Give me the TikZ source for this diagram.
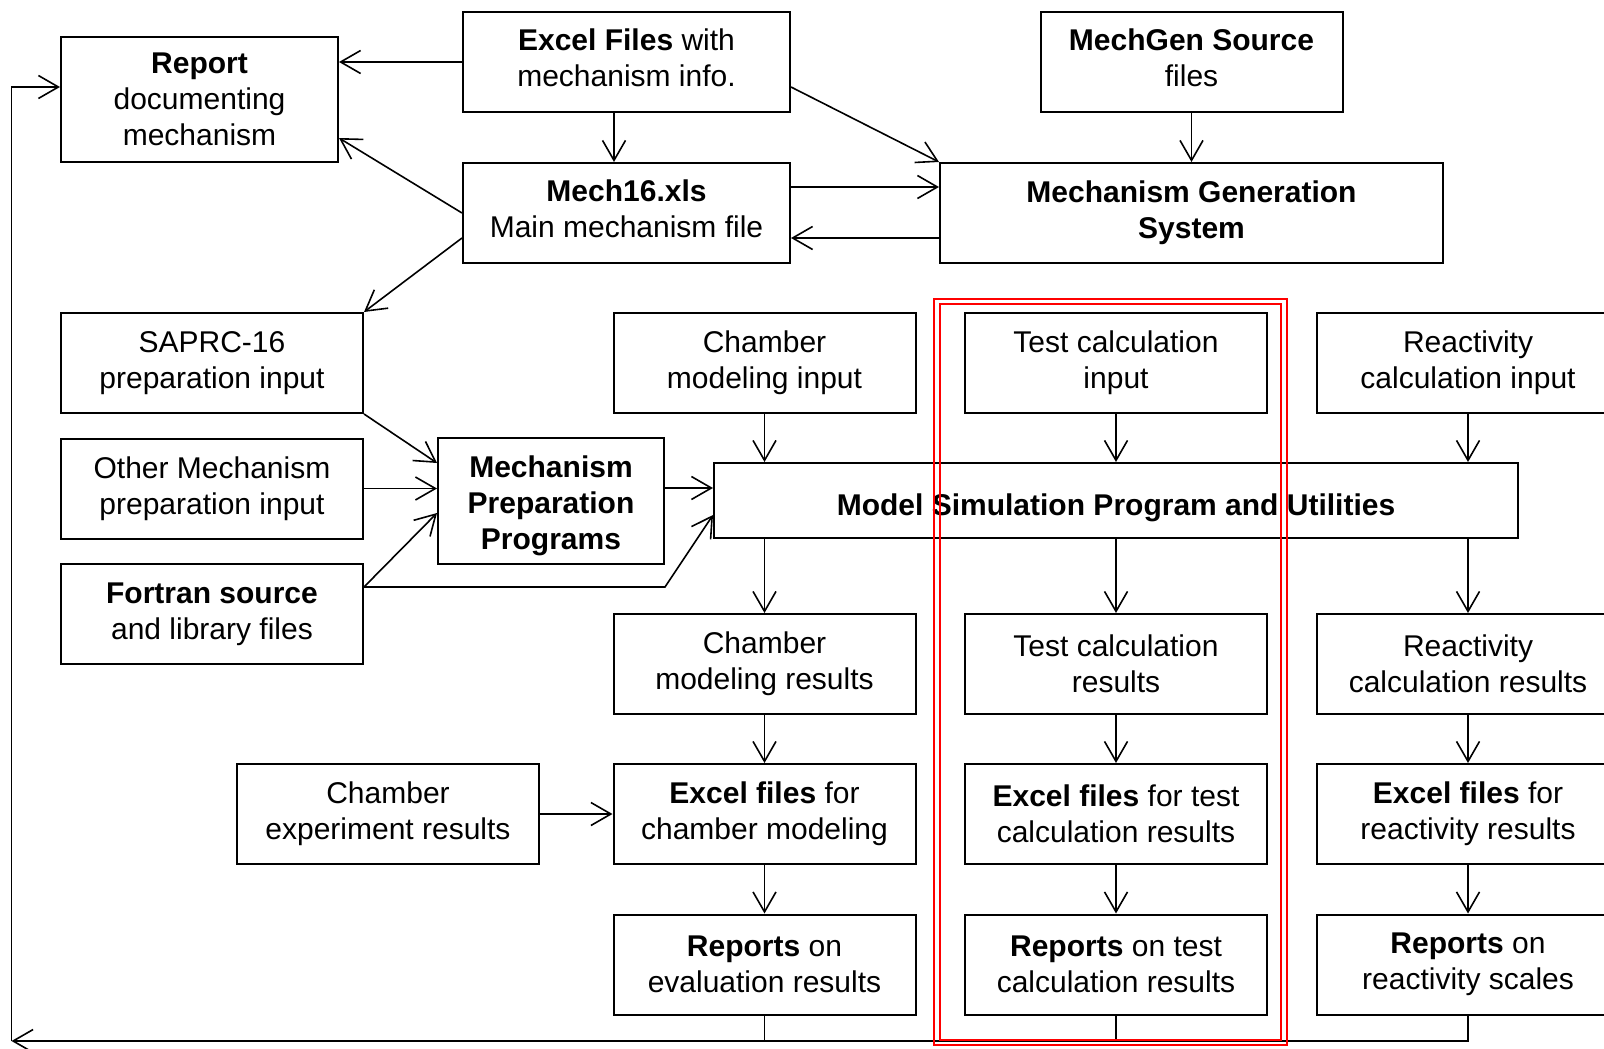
\documentclass[tikz,border=0pt]{standalone}
\usepackage{fontspec}
\setmainfont{Liberation Sans}
\usetikzlibrary{arrows.meta}
\begin{document}
\begin{tikzpicture}[x=0.5pt,y=-0.5pt,
  box/.style={draw, line width=1pt, align=center, inner sep=0pt,
    font=\fontsize{15pt}{18pt}\selectfont, minimum height=50pt, minimum width=151pt},
  bbox/.style={box, font=\fontsize{15pt}{18pt}\selectfont\bfseries},
  txt/.style={align=center, font=\fontsize{15pt}{18pt}\selectfont},
  btxt/.style={txt, font=\fontsize{15pt}{18pt}\selectfont\bfseries},
  arr/.style={line width=0.8pt, -{Straight Barb[length=10pt,width=11.5pt]}},
  link/.style={line width=0.8pt}]
\useasboundingbox (0,0) rectangle (1604,1048);
\clip (0,0) rectangle (1604,1048);

% upper part: mechanism sources
\node[box, minimum width=138.5pt, minimum height=62.5pt] (rep) at (199.5,99.5) {\textbf{Report}\\documenting\\mechanism};
\node[box, minimum width=163.5pt,
  label={[txt, yshift=2pt]center:{\textbf{Excel Files} with\\mechanism info.}}] (xls) at (626.5,62) {};
\node[box, label={[txt, yshift=2pt]center:{\textbf{MechGen Source}\\files}}] (src) at (1191.5,62) {};
\node[box, minimum width=163.5pt,
  label={[txt, yshift=2pt]center:{\textbf{Mech16.xls}\\Main mechanism file}}] (mech) at (626.5,213) {};
\node[bbox, minimum width=251.5pt] (mgs) at (1191.5,213) {Mechanism Generation\\System};

% preparation inputs
\node[box] (saprc) at (212,363) {SAPRC-16\\preparation input};
\node[box] (other) at (212,488.5) {Other Mechanism\\preparation input};
\node[box] (fort) at (212,614) {\textbf{Fortran source}\\and library files};
\node[box, minimum width=113pt, minimum height=63pt,
  label={[btxt, yshift=-2.5pt]center:{Mechanism\\Preparation\\Programs}}] (mpp) at (551,501) {};
\node[bbox, minimum width=402pt, minimum height=37.5pt, text height=18pt] (sim) at (1116,500.5) {Model Simulation Program and Utilities};

% three calculation columns
\node[box] (cin) at (764.5,363) {Chamber\\modeling input};
\node[box] (tin) at (1116,363) {Test calculation\\input};
\node[box] (rin) at (1468,363) {Reactivity\\calculation input};
\node[box] (cres) at (764.5,664) {Chamber\\modeling results};
\node[box] (tres) at (1116,664) {Test calculation\\results};
\node[box] (rres) at (1468,664) {Reactivity\\calculation results};
\node[box] (cexp) at (388,814) {Chamber\\experiment results};
\node[box] (cxls) at (764.5,814) {\textbf{Excel files} for\\chamber modeling};
\node[box] (txls) at (1116,814) {\textbf{Excel files} for test\\calculation results};
\node[box] (rxls) at (1468,814) {\textbf{Excel files} for\\reactivity results};
\node[box] (crep) at (764.5,964.5) {\textbf{Reports} on\\evaluation results};
\node[box] (trep) at (1116,964.5) {\textbf{Reports} on test\\calculation results};
\node[box] (rrep) at (1468,964.5) {\textbf{Reports} on\\reactivity scales};

% connectors of the upper part
\draw[arr] (xls.west) -- (xls.west -| rep.east);
\draw[arr] ([xshift=-6.25pt]xls.south) -- ([xshift=-6.25pt]mech.north);
\draw[arr] ([yshift=-12.5pt]xls.east) -- (mgs.north west);
\draw[arr] (src) -- (mgs);
\draw[arr] ([yshift=13pt]mech.east) -- ([yshift=13pt]mech.east -| mgs.west);
\draw[arr] ([yshift=-12.5pt]mgs.west) -- ([yshift=-12.5pt]mgs.west -| mech.east);
\draw[arr] (mech.west) -- ([yshift=-19.25pt]rep.east);
\draw[arr] ([yshift=-12.5pt]mech.west) -- (saprc.north east);

% preparation programs
\draw[arr] (saprc.south east) -- ([yshift=19pt]mpp.west);
\draw[arr] (other.east) -- (other.east -| mpp.west);
\draw[arr] ([yshift=13.5pt]fort.east) -- ([yshift=-6pt]mpp.west);
\draw[arr] ([yshift=13.5pt]fort.east) -- ([yshift=13.5pt]fort.east -| mpp.east) -- ([yshift=-7.25pt]sim.west);
\draw[arr] ([yshift=6.5pt]mpp.east) -- ([yshift=6.5pt]mpp.east -| sim.west);

% column flows
\foreach \c in {c,t,r}{
  \draw[arr] (\c in) -- (\c in.south |- sim.north);
  \draw[arr] (\c res.north |- sim.south) -- (\c res);
  \draw[arr] (\c res) -- (\c xls);
  \draw[arr] (\c xls) -- (\c rep);
}
\draw[arr] (cexp) -- (cxls);

% feedback to the report
\coordinate (bl) at (11.5,1041);
\draw[arr] (rrep.south) |- (bl);
\draw[link] (crep.south) -- (crep.south |- bl);
\draw[link] (trep.south) -- (trep.south |- bl);
\draw[arr] (bl) |- ([yshift=6.25pt]rep.west);

% highlight of the test calculation column
\draw[red, line width=1pt] (934,299) rectangle (1287,1045);
\draw[red, line width=1pt] (940,304) rectangle (1281,1040);
\end{tikzpicture}
\end{document}
